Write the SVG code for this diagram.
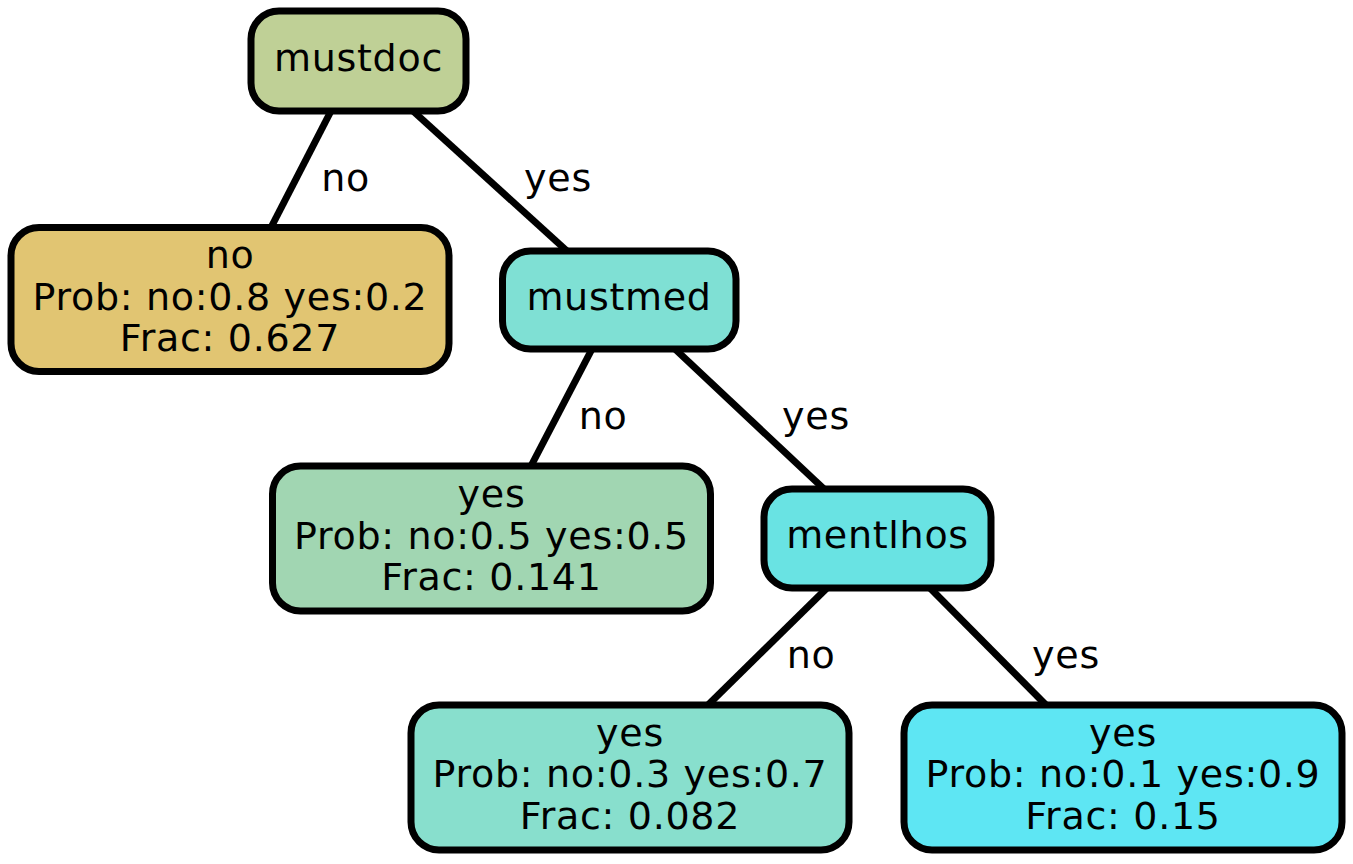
<svg xmlns="http://www.w3.org/2000/svg" width="1353" height="864" viewBox="0 0 1353 864">
<style>
.n{stroke:#000;stroke-width:7}
.e{stroke:#000;stroke-width:7;fill:none}
text{font-family:"DejaVu Sans","Liberation Sans",sans-serif;font-size:38px;letter-spacing:0.7px;fill:#000;text-anchor:middle}
</style>
<rect width="1353" height="864" fill="#fff"/>
<g id="connectors">
<line class="e" x1="331" y1="111" x2="271" y2="227.5"/>
<line class="e" x1="413" y1="111" x2="567" y2="251"/>
<line class="e" x1="592" y1="349" x2="531" y2="466"/>
<line class="e" x1="675" y1="349" x2="824" y2="489"/>
<line class="e" x1="827" y1="588" x2="708" y2="705"/>
<line class="e" x1="930" y1="588" x2="1046" y2="705"/>
<text x="345.5" y="190.5">no</text>
<text x="558" y="190.5">yes</text>
<text x="603" y="429.3">no</text>
<text x="816" y="429.3">yes</text>
<text x="811" y="668.3">no</text>
<text x="1066" y="668.3">yes</text>
</g>
<g id="mustdoc">
<rect class="n" x="251" y="11" width="215" height="100" rx="28" fill="#bfd096"/>
<text x="358.5" y="71">mustdoc</text>
</g>
<g id="leaf_no">
<rect class="n" x="11" y="227.5" width="438" height="144" rx="28" fill="#e1c572"/>
<text x="230" y="268.3">no</text>
<text x="230" y="309.5">Prob: no:0.8 yes:0.2</text>
<text x="230" y="351">Frac: 0.627</text>
</g>
<g id="mustmed">
<rect class="n" x="502.5" y="251" width="233.5" height="98" rx="28" fill="#7fe0d4"/>
<text x="619" y="310">mustmed</text>
</g>
<g id="leaf_yes_0141">
<rect class="n" x="272.5" y="466" width="438" height="145" rx="28" fill="#a1d6b2"/>
<text x="491.5" y="507">yes</text>
<text x="491.5" y="548.5">Prob: no:0.5 yes:0.5</text>
<text x="491.5" y="590">Frac: 0.141</text>
</g>
<g id="mentlhos">
<rect class="n" x="764" y="489" width="227" height="99" rx="28" fill="#69e3e3"/>
<text x="877.5" y="548">mentlhos</text>
</g>
<g id="leaf_yes_0082">
<rect class="n" x="411" y="705" width="438" height="145" rx="28" fill="#88dfcd"/>
<text x="630" y="745.5">yes</text>
<text x="630" y="787">Prob: no:0.3 yes:0.7</text>
<text x="630" y="828.5">Frac: 0.082</text>
</g>
<g id="leaf_yes_015">
<rect class="n" x="904" y="705" width="438" height="145" rx="28" fill="#5ee6f3"/>
<text x="1123" y="745.5">yes</text>
<text x="1123" y="787">Prob: no:0.1 yes:0.9</text>
<text x="1123" y="828.5">Frac: 0.15</text>
</g>
</svg>
